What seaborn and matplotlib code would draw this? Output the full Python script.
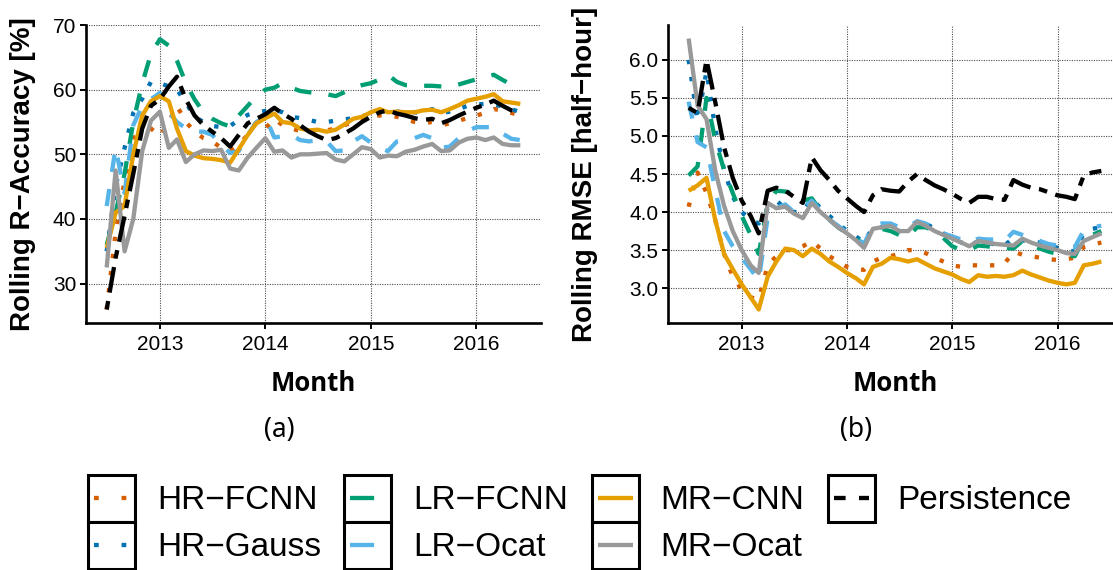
import numpy as np
import pandas as pd
import matplotlib
matplotlib.use("Agg")
import matplotlib.pyplot as plt
import matplotlib.dates as mdates
from matplotlib.lines import Line2D
from matplotlib.patches import Rectangle
from matplotlib.legend_handler import HandlerBase
import seaborn as sns

# ---------------------------------------------------------------- data
months = pd.date_range("2012-07-01", periods=48, freq="MS")
models = ["HR−FCNN", "HR−Gauss", "LR−FCNN", "LR−Ocat", "MR−CNN", "MR−Ocat", "Persistence"]

# Rolling R-accuracy [%]
acc_hr_fcnn = [26.0, 38.0, 46.0, 52.0, 55.5, 54.0, 52.8, 55.0, 57.5, 55.0, 53.5, 52.5, 52.0, 51.0, 50.5, 51.5,
               53.0, 55.0, 54.0, 55.5, 54.5, 54.0, 53.6, 53.5, 53.5, 53.7, 54.0, 54.5, 55.0, 55.5, 56.0, 56.0,
               56.0, 55.8, 55.5, 55.0, 54.8, 55.0, 54.5, 54.8, 55.2, 55.6, 56.0, 56.4, 57.0, 56.8, 56.4, 56.0]
acc_hr_gauss = [35.0, 45.0, 51.0, 56.4, 58.6, 61.2, 61.0, 60.5, 60.0, 58.0, 55.8, 55.0, 54.4, 54.2, 54.4, 55.3,
                56.1, 56.5, 56.7, 56.9, 56.5, 55.8, 55.6, 55.3, 55.0, 55.0, 55.2, 55.4, 55.6, 55.9, 56.2, 56.6,
                57.0, 56.6, 56.5, 56.5, 56.4, 57.0, 56.4, 56.6, 57.0, 57.5, 57.7, 57.8, 57.7, 57.4, 57.0, 56.5]
acc_lr_fcnn = [36.0, 41.0, 47.0, 55.0, 61.0, 65.5, 67.8, 66.8, 64.5, 61.0, 58.5, 56.5, 55.5, 54.8, 54.3, 56.0,
               57.5, 59.0, 60.0, 60.3, 61.0, 60.3, 59.8, 59.6, 59.5, 59.3, 59.0, 59.6, 60.2, 60.7, 61.0, 61.6,
               62.3, 61.2, 60.7, 60.6, 60.6, 60.6, 60.5, 60.4, 60.8, 61.2, 61.6, 62.0, 62.3, 61.5, 60.8, 60.5]
acc_lr_ocat = [42.0, 51.0, 44.0, 54.5, 57.5, 58.5, 59.5, 56.5, 55.0, 54.0, 53.5, 53.5, 53.0, 51.5, 50.2, 50.5,
               53.0, 55.0, 55.8, 52.6, 52.8, 53.0, 52.2, 52.0, 52.2, 52.0, 50.5, 50.6, 52.0, 52.8, 51.8, 51.0,
               50.5, 52.0, 52.3, 52.5, 53.0, 52.5, 51.0, 51.2, 52.5, 53.6, 54.2, 54.2, 54.2, 53.2, 52.4, 52.2]
acc_mr_cnn = [35.5, 41.0, 42.0, 50.0, 56.0, 58.2, 59.0, 58.2, 54.0, 50.5, 49.8, 49.4, 49.3, 49.1, 48.7, 50.8,
              53.0, 54.8, 55.6, 56.3, 55.0, 54.8, 54.0, 53.7, 53.8, 53.5, 53.8, 54.6, 55.5, 55.8, 56.5, 57.0,
              56.5, 56.6, 56.5, 56.5, 56.8, 56.9, 56.5, 57.0, 57.6, 58.3, 58.6, 58.9, 59.3, 58.2, 58.0, 57.8]
acc_mr_ocat = [32.5, 47.5, 35.0, 40.0, 50.5, 55.2, 56.6, 51.0, 52.3, 48.8, 50.0, 50.6, 50.5, 50.7, 47.8, 47.5,
               49.5, 51.0, 52.5, 50.4, 50.6, 49.5, 50.0, 50.0, 50.1, 50.2, 49.2, 48.9, 50.0, 51.1, 50.8, 49.5,
               49.8, 49.7, 50.4, 50.7, 51.2, 51.6, 50.5, 50.6, 51.8, 52.4, 52.6, 52.2, 52.6, 51.6, 51.4, 51.4]
acc_persistence = [26.0, 34.0, 40.5, 47.0, 54.0, 57.5, 58.5, 60.5, 62.0, 58.5, 56.0, 54.5, 53.5, 52.5, 51.2, 53.0,
                   54.8, 55.5, 56.2, 57.2, 56.3, 55.5, 54.5, 53.5, 52.8, 52.2, 52.5, 53.2, 54.0, 55.0, 55.8, 56.5,
                   56.8, 56.3, 56.0, 55.6, 55.3, 55.5, 54.8, 55.3, 56.0, 56.6, 57.2, 57.7, 58.3, 57.5, 56.8, 56.3]

# Rolling RMSE [half-hour]
rmse_hr_fcnn = [4.07, 4.52, 4.25, 3.90, 3.45, 3.15, 2.98, 2.88, 2.85, 3.30, 3.42, 3.50, 3.50, 3.55, 3.62, 3.52,
                3.42, 3.35, 3.28, 3.25, 3.24, 3.35, 3.40, 3.42, 3.45, 3.50, 3.50, 3.46, 3.40, 3.35, 3.30, 3.28,
                3.30, 3.30, 3.30, 3.30, 3.32, 3.48, 3.44, 3.42, 3.40, 3.38, 3.37, 3.38, 3.40, 3.54, 3.57, 3.60]
rmse_hr_gauss = [6.00, 5.20, 5.85, 5.10, 4.55, 4.20, 4.00, 3.90, 3.85, 4.05, 4.15, 4.05, 4.00, 4.00, 4.18, 4.05,
                 3.95, 3.85, 3.75, 3.68, 3.60, 3.80, 3.80, 3.80, 3.75, 3.75, 3.85, 3.85, 3.78, 3.72, 3.66, 3.60,
                 3.55, 3.62, 3.60, 3.57, 3.56, 3.66, 3.63, 3.60, 3.60, 3.56, 3.53, 3.50, 3.48, 3.72, 3.78, 3.80]
rmse_lr_fcnn = [4.48, 4.60, 5.50, 4.95, 4.55, 4.25, 3.95, 3.70, 3.45, 4.10, 4.28, 4.27, 4.24, 4.15, 4.18, 4.02,
                3.90, 3.80, 3.72, 3.65, 3.58, 3.75, 3.78, 3.75, 3.70, 3.68, 3.80, 3.80, 3.75, 3.66, 3.55, 3.50,
                3.50, 3.56, 3.55, 3.53, 3.53, 3.52, 3.62, 3.57, 3.52, 3.48, 3.45, 3.43, 3.42, 3.65, 3.70, 3.75]
rmse_lr_ocat = [5.45, 4.92, 4.85, 4.30, 3.75, 3.55, 3.40, 3.25, 3.10, 3.93, 4.05, 4.10, 4.00, 4.05, 4.15, 4.02,
                3.90, 3.82, 3.73, 3.66, 3.58, 3.82, 3.85, 3.85, 3.80, 3.80, 3.88, 3.85, 3.78, 3.72, 3.68, 3.64,
                3.60, 3.65, 3.64, 3.64, 3.62, 3.74, 3.70, 3.66, 3.62, 3.58, 3.56, 3.55, 3.54, 3.76, 3.80, 3.82]
rmse_mr_cnn = [4.28, 4.35, 4.45, 3.90, 3.45, 3.25, 3.05, 2.88, 2.72, 3.15, 3.35, 3.52, 3.50, 3.42, 3.52, 3.45,
               3.35, 3.28, 3.20, 3.13, 3.05, 3.28, 3.32, 3.40, 3.38, 3.35, 3.38, 3.32, 3.26, 3.22, 3.18, 3.12,
               3.08, 3.17, 3.15, 3.16, 3.15, 3.17, 3.23, 3.18, 3.14, 3.10, 3.07, 3.05, 3.07, 3.30, 3.32, 3.35]
rmse_mr_ocat = [6.28, 5.40, 5.22, 4.55, 4.08, 3.75, 3.50, 3.30, 3.20, 4.12, 4.05, 4.07, 3.98, 3.92, 4.12, 4.00,
                3.90, 3.80, 3.72, 3.63, 3.53, 3.78, 3.80, 3.82, 3.75, 3.75, 3.87, 3.82, 3.75, 3.70, 3.65, 3.60,
                3.55, 3.62, 3.60, 3.58, 3.57, 3.56, 3.65, 3.60, 3.56, 3.53, 3.50, 3.46, 3.45, 3.62, 3.67, 3.72]
rmse_persistence = [5.37, 5.30, 6.00, 5.45, 4.85, 4.45, 4.15, 3.95, 3.72, 4.28, 4.32, 4.28, 4.20, 4.12, 4.72, 4.55,
                    4.42, 4.28, 4.18, 4.08, 4.00, 4.22, 4.30, 4.28, 4.27, 4.40, 4.50, 4.42, 4.35, 4.30, 4.24, 4.17,
                    4.12, 4.20, 4.20, 4.17, 4.16, 4.42, 4.36, 4.32, 4.30, 4.26, 4.22, 4.20, 4.17, 4.48, 4.52, 4.54]

acc_ticks = [30, 40, 50, 60, 70]
rmse_ticks = [3.0, 3.5, 4.0, 4.5, 5.0, 5.5, 6.0]
year_ticks = ["2013", "2014", "2015", "2016"]

acc_series = [acc_hr_fcnn, acc_hr_gauss, acc_lr_fcnn, acc_lr_ocat, acc_mr_cnn, acc_mr_ocat, acc_persistence]
rmse_series = [rmse_hr_fcnn, rmse_hr_gauss, rmse_lr_fcnn, rmse_lr_ocat, rmse_mr_cnn, rmse_mr_ocat, rmse_persistence]


def long_frame(series):
    return pd.concat(
        [pd.DataFrame({"month": months, "value": vals, "model": name}) for name, vals in zip(models, series)],
        ignore_index=True,
    )


acc_df = long_frame(acc_series)
rmse_df = long_frame(rmse_series)

# ---------------------------------------------------------------- styles
palette = {
    "HR−FCNN": "#D55E00",
    "HR−Gauss": "#0072B2",
    "LR−FCNN": "#009E73",
    "LR−Ocat": "#56B4E9",
    "MR−CNN": "#E69F00",
    "MR−Ocat": "#999999",
    "Persistence": "#000000",
}
line_dashes = {
    "HR−FCNN": (1, 3),
    "HR−Gauss": (1, 3),
    "LR−FCNN": (4, 4),
    "LR−Ocat": (4, 4),
    "MR−CNN": "",
    "MR−Ocat": "",
    "Persistence": (2, 2, 6, 2),
}
key_dashes = {
    "HR−FCNN": (1.1, 5.3),
    "HR−Gauss": (1.1, 5.3),
    "LR−FCNN": (5.6, 5),
    "LR−Ocat": (5.6, 5),
    "MR−CNN": None,
    "MR−Ocat": None,
    "Persistence": (2.7, 3.1),
}
LW = 3.1

sns.set_theme(style="ticks")
plt.rcParams["font.family"] = ["Liberation Sans", "DejaVu Sans"]
plt.rcParams["text.color"] = "black"
plt.rcParams["axes.labelcolor"] = "black"
plt.rcParams["lines.solid_capstyle"] = "butt"
plt.rcParams["lines.dash_capstyle"] = "butt"
plt.rcParams["lines.solid_joinstyle"] = "round"

W, H = 1113, 570
fig = plt.figure(figsize=(W / 100, H / 100), dpi=100)
fig.patch.set_facecolor("white")


def frac_box(x0, x1, ytop, ybot):
    return [x0 / W, 1 - ybot / H, (x1 - x0) / W, (ybot - ytop) / H]


def expand(lo, hi, f=0.05):
    span = hi - lo
    return lo - f * span, hi + f * span


ax_a = fig.add_axes(frac_box(86, 541, 25, 323))
ax_b = fig.add_axes(frac_box(668, 1122, 25, 323))

xnum = mdates.date2num(months)
xlims = expand(xnum.min(), xnum.max())
year_pos = [mdates.date2num(pd.Timestamp(f"{y}-01-01")) for y in year_ticks]

for ax, df, ticks, fmt in [(ax_a, acc_df, acc_ticks, "{:.0f}"), (ax_b, rmse_df, rmse_ticks, "{:.1f}")]:
    sns.lineplot(
        data=df, x="month", y="value", hue="model", style="model",
        hue_order=models, style_order=models, palette=palette, dashes=line_dashes,
        linewidth=LW, legend=False, ax=ax, estimator=None, sort=False,
    )
    ax.set_xlim(*xlims)
    ax.set_ylim(*expand(df["value"].min(), df["value"].max()))
    ax.set_xticks(year_pos)
    ax.set_xticklabels(year_ticks)
    ax.set_yticks(ticks)
    ax.set_yticklabels([fmt.format(t) for t in ticks])
    ax.set_xlabel("")
    ax.set_ylabel("")
    ax.set_facecolor("white")
    ax.grid(True, which="major", linestyle=(0, (1, 1.2)), color="#4d4d4d", linewidth=0.8)
    ax.set_axisbelow(True)
    for side in ("top", "right"):
        ax.spines[side].set_visible(False)
    for side in ("left", "bottom"):
        ax.spines[side].set_color("black")
        ax.spines[side].set_linewidth(1.9)
    ax.tick_params(axis="both", which="major", length=4, width=1.4, color="black",
                   labelcolor="black", labelsize=15)
    ax.tick_params(axis="y", pad=3)
    ax.tick_params(axis="x", pad=5)


def px(x, y):
    return x / W, 1 - y / H


ylab_font = dict(family=["Liberation Sans", "DejaVu Sans"], weight="bold", size=20)
fig.text(*px(23, 174), "Rolling R−Accuracy [%]", rotation=90, ha="center", va="center", **ylab_font)
fig.text(*px(585, 174), "Rolling RMSE [half−hour]", rotation=90, ha="center", va="center", **ylab_font)

month_font = dict(family=["Open Sans", "DejaVu Sans"], weight="bold", size=18.5)
fig.text(*px(313.5, 391), "Month", ha="center", va="baseline", **month_font)
fig.text(*px(895, 391), "Month", ha="center", va="baseline", **month_font)

tag_font = dict(family=["Noto Sans", "DejaVu Sans"], size=19)
fig.text(*px(279, 437), "(a)", ha="center", va="baseline", **tag_font)
fig.text(*px(856, 437), "(b)", ha="center", va="baseline", **tag_font)


# ---------------------------------------------------------------- legend
class BoxedKey(HandlerBase):
    def create_artists(self, legend, orig_handle, xdescent, ydescent, width, height, fontsize, trans):
        x0, y0 = -xdescent, -ydescent
        box = Rectangle((x0, y0), width, height, facecolor="white", edgecolor="black",
                        linewidth=2.2, transform=trans)
        inset = 4.3
        ym = y0 + height / 2
        line = Line2D([x0 + inset, x0 + width - inset], [ym, ym], color=orig_handle.get_color(),
                      linewidth=orig_handle.get_linewidth(), solid_capstyle="butt",
                      dash_capstyle="butt", transform=trans)
        d = key_dashes[orig_handle.get_label()]
        if d:
            line.set_dashes(d)
        return [box, line]


handles = [Line2D([], [], color=palette[m], linewidth=LW, label=m) for m in models]
fig.legend(
    handles=handles, labels=models, loc="upper left", bbox_to_anchor=px(88, 475),
    ncols=4, frameon=False, borderpad=0, borderaxespad=0,
    handlelength=1.41, handleheight=1.79, handletextpad=0.66, columnspacing=0.7, labelspacing=0,
    prop=dict(family=["Liberation Sans", "DejaVu Sans"], size=24),
    handler_map={Line2D: BoxedKey()},
)

fig.savefig("out.png", dpi=100, facecolor="white")
